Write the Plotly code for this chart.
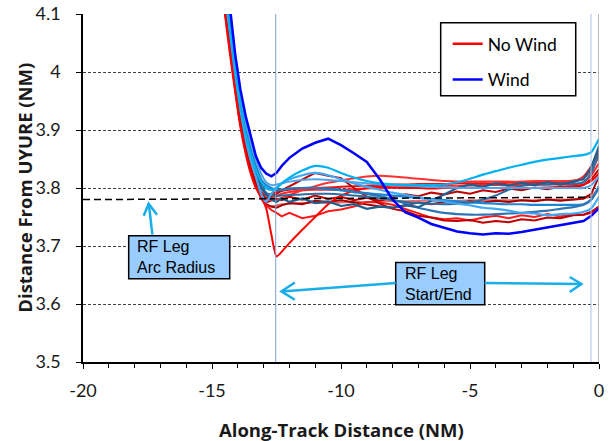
import plotly.graph_objects as go

# ---------------- data ----------------
X_NM = [-14.7, -14.5, -14.3, -14.1, -13.9, -13.7, -13.5, -13.3, -13.1,
        -12.9, -12.7, -12.5, -12.3, -12.0, -11.5, -11.0, -10.5, -10.0,
        -9.5, -9.0, -8.5, -8.0, -7.5, -7.0, -6.5, -6.0, -5.5, -5.0, -4.5,
        -4.0, -3.5, -3.0, -2.5, -2.0, -1.5, -1.0, -0.6, -0.3, 0.0]

# No Wind runs (red family)
nw_1 = [4.19, 4.10, 4.03, 3.965, 3.905, 3.86, 3.825, 3.80, 3.785,
        3.765, 3.72, 3.682, 3.69, 3.705, 3.728, 3.75, 3.772, 3.787, 3.795, 3.80,
        3.802, 3.801, 3.80, 3.80, 3.799, 3.80, 3.80, 3.801, 3.80, 3.80,
        3.801, 3.801, 3.80, 3.801, 3.802, 3.803, 3.806, 3.812, 3.825]
nw_2 = [4.2, 4.11, 4.04, 3.972, 3.912, 3.866, 3.83, 3.803, 3.782,
        3.77, 3.762, 3.757, 3.751, 3.757, 3.748, 3.752, 3.76, 3.763, 3.768,
        3.776, 3.775, 3.771, 3.764, 3.757, 3.749, 3.746, 3.748, 3.744, 3.749,
        3.752, 3.748, 3.753, 3.75, 3.755, 3.751, 3.755, 3.754, 3.757, 3.768]
nw_3 = [4.21, 4.12, 4.05, 3.98, 3.92, 3.872, 3.835, 3.808, 3.79,
        3.782, 3.786, 3.79, 3.796, 3.803, 3.814, 3.826, 3.821, 3.817, 3.80,
        3.785, 3.773, 3.764, 3.76, 3.752, 3.749, 3.744, 3.743, 3.745, 3.74,
        3.743, 3.741, 3.746, 3.744, 3.749, 3.748, 3.753, 3.754, 3.759, 3.768]
nw_4 = [4.2, 4.115, 4.045, 3.978, 3.918, 3.87, 3.833, 3.806, 3.787,
        3.775, 3.778, 3.782, 3.779, 3.785, 3.78, 3.787, 3.781, 3.785, 3.779,
        3.783, 3.778, 3.784, 3.789, 3.786, 3.792, 3.789, 3.794, 3.79, 3.796,
        3.793, 3.799, 3.796, 3.801, 3.798, 3.802, 3.80, 3.805, 3.815, 3.832]
nw_5 = [4.19, 4.105, 4.035, 3.97, 3.91, 3.865, 3.83, 3.805, 3.787,
        3.781, 3.779, 3.78, 3.783, 3.788, 3.796, 3.803, 3.809, 3.813, 3.817,
        3.82, 3.821, 3.82, 3.818, 3.816, 3.814, 3.812, 3.811, 3.811, 3.811,
        3.811, 3.811, 3.811, 3.812, 3.812, 3.812, 3.813, 3.818, 3.83, 3.855]
nw_6 = [4.2, 4.11, 4.04, 3.975, 3.915, 3.868, 3.832, 3.805, 3.786,
        3.772, 3.768, 3.77, 3.772, 3.773, 3.774, 3.775, 3.774, 3.775, 3.776,
        3.776, 3.777, 3.777, 3.777, 3.778, 3.778, 3.778, 3.778, 3.779, 3.779,
        3.779, 3.779, 3.779, 3.779, 3.78, 3.78, 3.78, 3.782, 3.786, 3.80]
nw_7 = [4.195, 4.108, 4.038, 3.972, 3.912, 3.867, 3.832, 3.807, 3.79,
        3.781, 3.783, 3.786, 3.79, 3.793, 3.796, 3.797, 3.797, 3.797, 3.798,
        3.799, 3.80, 3.801, 3.802, 3.803, 3.803, 3.804, 3.804, 3.805, 3.805,
        3.805, 3.805, 3.805, 3.805, 3.806, 3.806, 3.806, 3.81, 3.822, 3.843]
nw_8 = [4.205, 4.118, 4.048, 3.98, 3.92, 3.873, 3.836, 3.81, 3.793,
        3.787, 3.79, 3.793, 3.795, 3.797, 3.799, 3.80, 3.801, 3.802, 3.803,
        3.804, 3.805, 3.806, 3.806, 3.807, 3.807, 3.807, 3.808, 3.808, 3.808,
        3.808, 3.809, 3.809, 3.809, 3.81, 3.81, 3.81, 3.82, 3.838, 3.866]
nw_9 = [4.2, 4.112, 4.042, 3.975, 3.915, 3.868, 3.831, 3.804, 3.784,
        3.772, 3.768, 3.766, 3.77, 3.774, 3.772, 3.778, 3.776, 3.779, 3.775,
        3.772, 3.768, 3.766, 3.77, 3.775, 3.772, 3.776, 3.774, 3.777, 3.775,
        3.778, 3.776, 3.779, 3.777, 3.78, 3.778, 3.78, 3.782, 3.79, 3.82]

# Wind runs (blue family)
w_1 = [4.27, 4.18, 4.11, 4.03, 3.97, 3.925, 3.89, 3.855, 3.835,
       3.825, 3.82, 3.826, 3.838, 3.852, 3.868, 3.878, 3.885, 3.874, 3.86,
       3.845, 3.815, 3.78, 3.758, 3.749, 3.738, 3.731, 3.725, 3.722, 3.72,
       3.722, 3.721, 3.724, 3.728, 3.731, 3.735, 3.739, 3.743, 3.752, 3.765]
w_2 = [4.235, 4.145, 4.075, 4.003, 3.943, 3.895, 3.86, 3.832, 3.812,
       3.80, 3.797, 3.80, 3.808, 3.818, 3.83, 3.838, 3.835, 3.826, 3.818,
       3.812, 3.808, 3.806, 3.805, 3.805, 3.805, 3.806, 3.81, 3.816, 3.823,
       3.829, 3.835, 3.84, 3.845, 3.849, 3.852, 3.855, 3.857, 3.862, 3.885]
w_3 = [4.225, 4.135, 4.065, 3.995, 3.935, 3.885, 3.848, 3.82, 3.79,
       3.776, 3.79, 3.80, 3.808, 3.815, 3.822, 3.826, 3.822, 3.815, 3.808,
       3.802, 3.797, 3.792, 3.788, 3.784, 3.78, 3.777, 3.773, 3.77, 3.766,
       3.764, 3.761, 3.757, 3.756, 3.753, 3.755, 3.756, 3.759, 3.765, 3.785]
w_4 = [4.25, 4.16, 4.09, 4.015, 3.955, 3.905, 3.868, 3.838, 3.815,
       3.80, 3.797, 3.796, 3.797, 3.799, 3.80, 3.80, 3.799, 3.797, 3.794,
       3.79, 3.786, 3.78, 3.773, 3.766, 3.761, 3.757, 3.755, 3.754, 3.754,
       3.755, 3.756, 3.757, 3.759, 3.761, 3.764, 3.767, 3.771, 3.78, 3.80]
w_5 = [4.23, 4.14, 4.07, 4.0, 3.94, 3.89, 3.853, 3.825, 3.80,
       3.788, 3.78, 3.776, 3.782, 3.776, 3.782, 3.774, 3.777, 3.769, 3.772,
       3.764, 3.768, 3.766, 3.77, 3.767, 3.778, 3.79, 3.80, 3.806, 3.802,
       3.808, 3.804, 3.809, 3.805, 3.81, 3.806, 3.811, 3.815, 3.835, 3.872]
w_6 = [4.24, 4.15, 4.08, 4.008, 3.948, 3.898, 3.86, 3.832, 3.808,
       3.792, 3.788, 3.786, 3.787, 3.788, 3.789, 3.79, 3.79, 3.789, 3.787,
       3.785, 3.782, 3.779, 3.776, 3.774, 3.773, 3.772, 3.773, 3.775, 3.78,
       3.787, 3.797, 3.804, 3.807, 3.806, 3.808, 3.807, 3.81, 3.826, 3.86]
w_7 = [4.26, 4.17, 4.1, 4.022, 3.962, 3.915, 3.878, 3.848, 3.825,
       3.81, 3.805, 3.806, 3.808, 3.811, 3.814, 3.815, 3.814, 3.812, 3.81,
       3.808, 3.806, 3.805, 3.804, 3.803, 3.802, 3.801, 3.80, 3.80, 3.80,
       3.80, 3.80, 3.80, 3.80, 3.80, 3.80, 3.80, 3.80, 3.805, 3.82]
w_8 = [4.245, 4.155, 4.085, 4.012, 3.952, 3.902, 3.865, 3.836, 3.814,
       3.805, 3.80, 3.797, 3.797, 3.799, 3.80, 3.80, 3.798, 3.796, 3.793,
       3.791, 3.789, 3.787, 3.785, 3.783, 3.781, 3.779, 3.777, 3.775, 3.774,
       3.773, 3.772, 3.772, 3.771, 3.771, 3.771, 3.771, 3.772, 3.78, 3.803]

ARC_RADIUS_X = [-20.0, -0.3]
ARC_RADIUS_Y = [3.78, 3.784]
RF_START = -12.53
RF_END = -0.31

X_TICKS = [-20, -15, -10, -5, 0]
X_TICK_TEXT = ["-20", "-15", "-10", "-5", "0"]
Y_TICKS = [3.5, 3.6, 3.7, 3.8, 3.9, 4.0, 4.1]
Y_TICK_TEXT = ["3.5", "3.6", "3.7", "3.8", "3.9", "4", "4.1"]

# ---------------- styles ----------------
red_runs = [  # (values, colour, width, shape)
    (nw_6, "#E46C6C", 2.0, "spline"),
    (nw_9, "#A50000", 2.0, "linear"),
    (nw_4, "#C00000", 2.0, "linear"),
    (nw_7, "#FF2A2A", 2.0, "spline"),
    (nw_8, "#E81010", 2.0, "spline"),
    (nw_5, "#FF3030", 2.0, "spline"),
    (nw_2, "#FF1A1A", 2.0, "linear"),
    (nw_3, "#C00000", 2.0, "linear"),
    (nw_1, "#FF0000", 2.0, "spline"),
]
blue_runs = [
    (w_8, "#1C86D4", 2.2, "spline"),
    (w_4, "#2E75B6", 2.2, "spline"),
    (w_6, "#2B6CA3", 2.0, "spline"),
    (w_5, "#1F5F8F", 2.2, "linear"),
    (w_3, "#3FA9F5", 2.2, "spline"),
    (w_7, "#4FA3E8", 2.0, "spline"),
    (w_2, "#00B0F0", 2.2, "spline"),
    (w_1, "#0000FF", 2.5, "linear"),
]

fig = go.Figure()
for vals, col, wd, shp in red_runs + blue_runs:
    fig.add_trace(go.Scatter(x=X_NM, y=vals, mode="lines",
                             line=dict(color=col, width=wd, shape=shp, smoothing=0.6),
                             showlegend=False, hoverinfo="skip"))

fig.add_trace(go.Scatter(x=ARC_RADIUS_X, y=ARC_RADIUS_Y, mode="lines",
                         line=dict(color="black", width=1.5, dash="7px,4px"),
                         showlegend=False, hoverinfo="skip"))

# legend entries
fig.add_trace(go.Scatter(x=[None], y=[None], mode="lines", name="No Wind",
                         line=dict(color="#FF0000", width=2.5), legendgroup="a"))
fig.add_trace(go.Scatter(x=[None], y=[None], mode="lines", name="Wind",
                         line=dict(color="#0000FF", width=2.5), legendgroup="b"))

ARROW = "#1AAEE8"
shapes = [
    dict(type="line", xref="x", yref="paper", x0=RF_START, x1=RF_START, y0=0, y1=1,
         line=dict(color="#7AA2D6", width=1)),
    dict(type="line", xref="x", yref="paper", x0=RF_END, x1=RF_END, y0=0, y1=1,
         line=dict(color="#A9C3E6", width=1)),
    dict(type="line", xref="x", yref="paper", x0=0, x1=0, y0=0, y1=1,
         line=dict(color="#A6A6A6", width=1.5)),
    # legend frame
    dict(type="rect", xref="paper", yref="paper", x0=0.6932, x1=0.9549, y0=0.7652, y1=0.975,
         fillcolor="white", line=dict(color="black", width=1.5), layer="above"),
    # annotation boxes
    dict(type="rect", xref="x", yref="y", x0=-18.229, x1=-14.314, y0=3.6436, y1=3.7178,
         fillcolor="#99CCFF", line=dict(color="black", width=1.5), layer="above"),
    dict(type="rect", xref="x", yref="y", x0=-7.880, x1=-4.430, y0=3.5988, y1=3.6717,
         fillcolor="#99CCFF", line=dict(color="black", width=1.5), layer="above"),
    # arrows
    dict(type="line", xref="x", yref="y", x0=-17.31, y0=3.7195, x1=-17.45, y1=3.773,
         line=dict(color=ARROW, width=2.5), layer="above"),
    dict(type="path", xref="x", yref="y", path="M -17.647 3.7522 L -17.453 3.7729 L -17.132 3.7539",
         line=dict(color=ARROW, width=2.5), layer="above"),
    dict(type="line", xref="x", yref="y", x0=-7.88, y0=3.6362, x1=-12.31, y1=3.6217,
         line=dict(color=ARROW, width=2.5), layer="above"),
    dict(type="path", xref="x", yref="y", path="M -11.79 3.6372 L -12.31 3.6217 L -11.79 3.6074",
         line=dict(color=ARROW, width=2.5), layer="above"),
    dict(type="line", xref="x", yref="y", x0=-4.43, y0=3.6362, x1=-0.682, y1=3.6345,
         line=dict(color=ARROW, width=2.5), layer="above"),
    dict(type="path", xref="x", yref="y", path="M -1.136 3.6466 L -0.682 3.6345 L -1.136 3.6207",
         line=dict(color=ARROW, width=2.5), layer="above"),
]

box_font = dict(family="Liberation Sans, Arial, sans-serif", size=16, color="black")
title_font = dict(family="Open Sans, sans-serif", size=18.5, weight="bold", color="#1a1a1a")
annotations = [
    dict(xref="x", yref="y", x=-17.98, y=3.6807, xanchor="left", yanchor="middle",
         text="RF Leg<br>Arc Radius", showarrow=False, align="left", font=box_font),
    dict(xref="x", yref="y", x=-7.597, y=3.635, xanchor="left", yanchor="middle",
         text="RF Leg<br>Start/End", showarrow=False, align="left", font=box_font),
    # axis titles
    dict(xref="paper", yref="paper", x=0.5, y=-0.1945, xanchor="center", yanchor="middle",
         text="Along-Track Distance (NM)", showarrow=False, font=title_font),
    dict(xref="paper", yref="paper", x=-0.1149, y=0.5, xanchor="center", yanchor="middle",
         text="Distance From UYURE (NM)", showarrow=False, textangle=-90, font=title_font),
]

fig.update_layout(
    width=610, height=441,
    margin=dict(l=83, r=11, t=14, b=79, autoexpand=False),
    paper_bgcolor="white", plot_bgcolor="white",
    font=dict(family="Lato, sans-serif", size=18, color="#1a1a1a"),
    shapes=shapes, annotations=annotations,
    legend=dict(x=0.6932, y=0.966, xanchor="left", yanchor="top",
                bgcolor="rgba(0,0,0,0)", borderwidth=0,
                font=dict(family="Lato, sans-serif", size=17.5, color="black"),
                itemwidth=30, tracegroupgap=10, indentation=7),
    xaxis=dict(range=[-20, 0], tickmode="array", tickvals=X_TICKS, ticktext=X_TICK_TEXT,
               ticks="outside", ticklen=5, tickwidth=1, tickcolor="black",
               showline=True, linecolor="black", linewidth=1.5, automargin=False,
               showgrid=False, zeroline=False, ticklabelstandoff=7,
               minor=dict(dtick=1, tick0=0, ticks="outside", ticklen=4, tickcolor="black", showgrid=False)),
    yaxis=dict(range=[3.5, 4.1], tickmode="array", tickvals=Y_TICKS, ticktext=Y_TICK_TEXT,
               ticks="outside", ticklen=5, tickwidth=1, tickcolor="black",
               showline=True, linecolor="black", linewidth=1.5, automargin=False,
               showgrid=True, gridcolor="#404040", gridwidth=1, griddash="3px,2px",
               zeroline=False, ticklabelstandoff=12),
)

fig.write_html("out.html")
